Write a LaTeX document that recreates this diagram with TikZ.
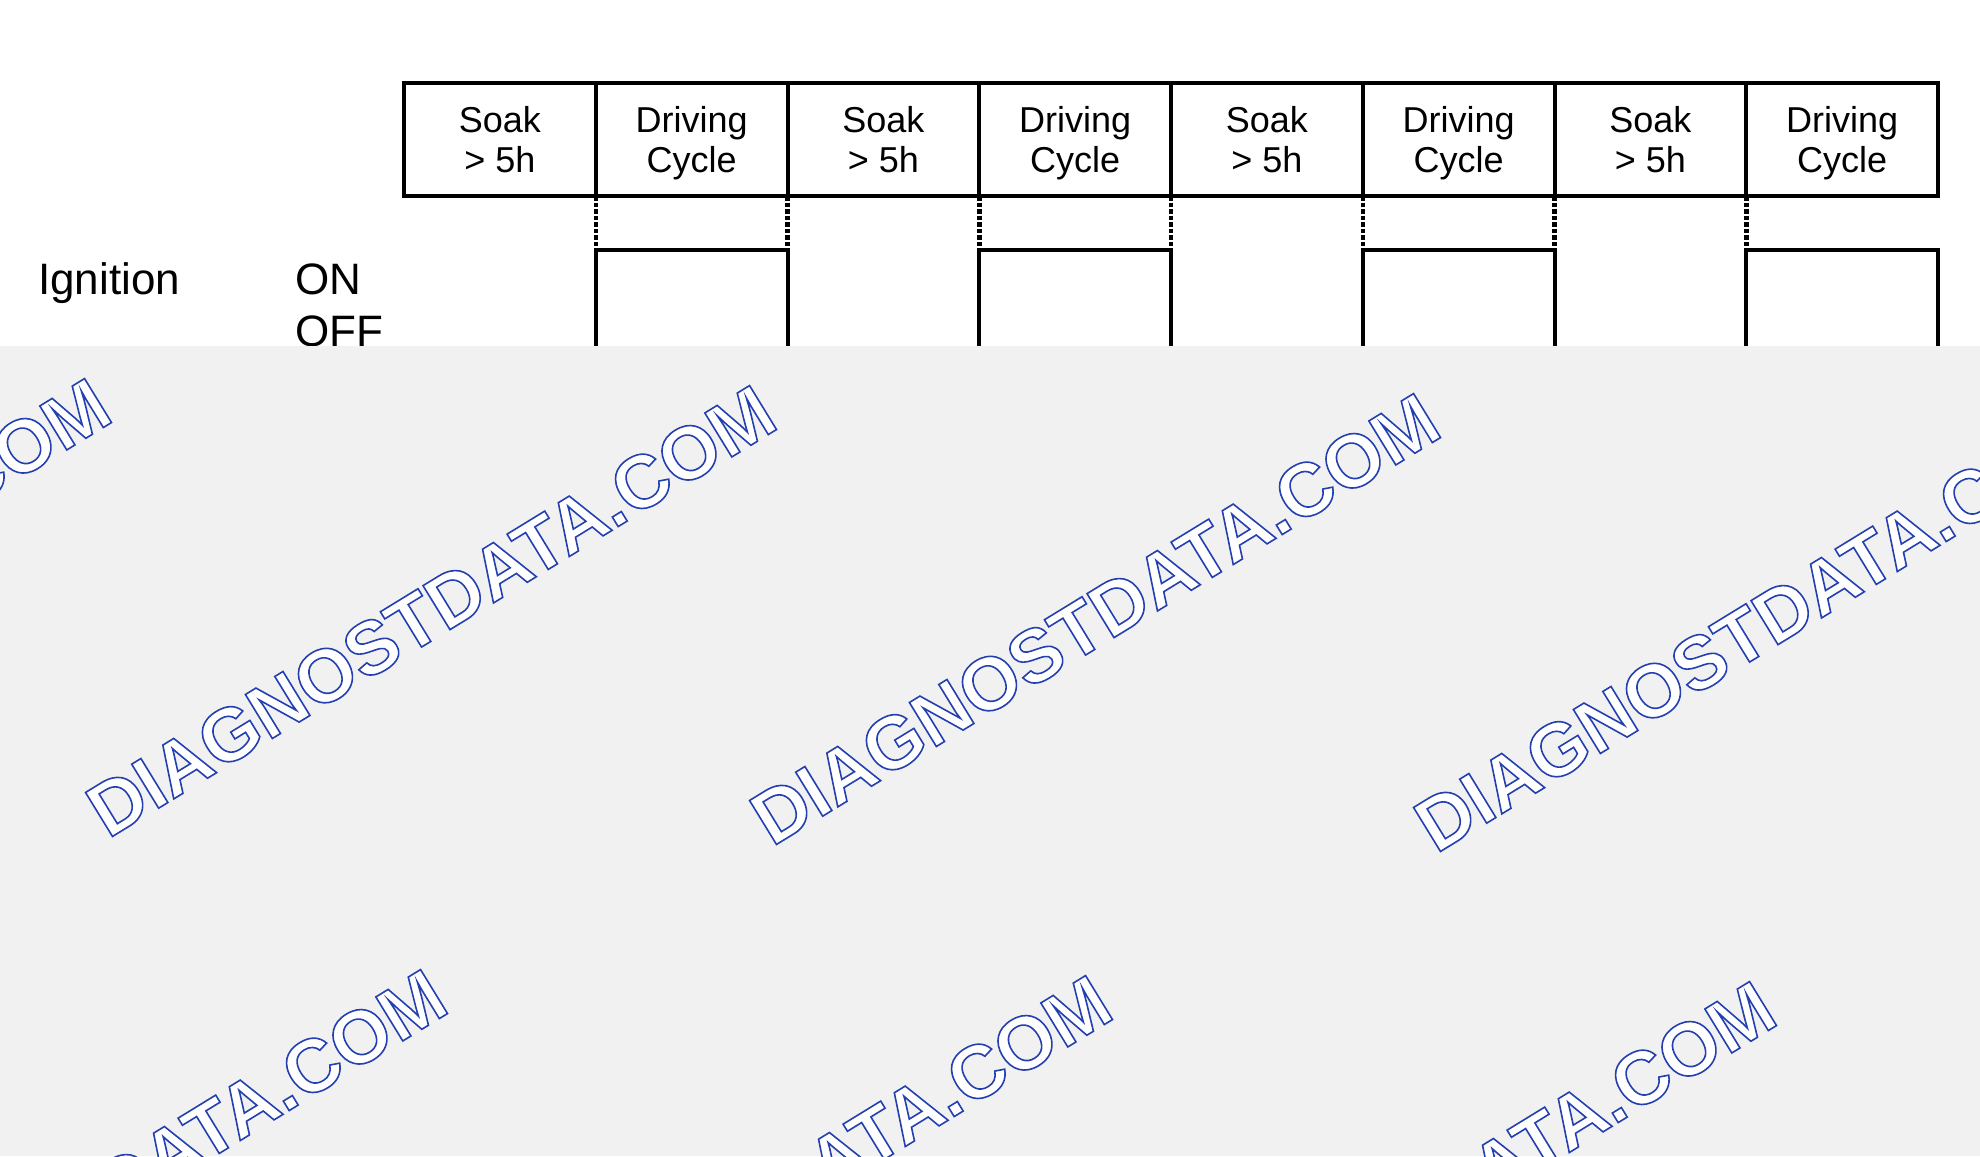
\documentclass[tikz,border=0pt]{standalone}
\usepackage{fontspec}
\setmainfont{Liberation Sans}
\usepackage{tikz}
\definecolor{fog}{RGB}{241,241,242}
\newcommand{\outlined}[1]{\special{pdf:literal direct 2 Tr 1.6 w 0.14 0.25 0.69 RG 1 1 1 rg}#1\special{pdf:literal direct 0 Tr}}
\tikzstyle{cellbox}=[rectangle,draw=black,line width=4pt,outer sep=0pt,
                     inner sep=0pt,minimum width=191.75pt,minimum height=113pt,
                     align=center,font=\fontsize{36}{40}\selectfont]
\tikzstyle{sigline}=[draw=black,line width=4pt]
\tikzstyle{dotline}=[draw=black,line width=4.5pt,dash pattern=on 4.5pt off 2pt]
\tikzstyle{label}=[anchor=base west,inner sep=0pt,font=\fontsize{44}{44}\selectfont]
\tikzstyle{stamp}=[rotate=31.5,inner sep=0pt,text=white,
                   font=\fontsize{75}{75}\selectfont\bfseries]

\begin{document}
\begin{tikzpicture}[x=1pt,y=-1pt]
    \useasboundingbox (0,0) rectangle (1980,1156);
    \newcommand{\cellw}{191.75}
    \newcommand{\midy}{139.5}
    % cycle boxes
    \node (soak1)  at (404+0.5*\cellw, \midy) [cellbox]{Soak\\> 5h};
    \node (drive1) at (404+1.5*\cellw, \midy) [cellbox]{Driving\\\smash{Cycle}};
    \node (soak2)  at (404+2.5*\cellw, \midy) [cellbox]{Soak\\> 5h};
    \node (drive2) at (404+3.5*\cellw, \midy) [cellbox]{Driving\\\smash{Cycle}};
    \node (soak3)  at (404+4.5*\cellw, \midy) [cellbox]{Soak\\> 5h};
    \node (drive3) at (404+5.5*\cellw, \midy) [cellbox]{Driving\\\smash{Cycle}};
    \node (soak4)  at (404+6.5*\cellw, \midy) [cellbox]{Soak\\> 5h};
    \node (drive4) at (404+7.5*\cellw, \midy) [cellbox]{Driving\\\smash{Cycle}};
    % ignition trace
    \node (ign) at (38, 294) [label]{Ignition};
    \node (on)  at (295, 294) [label]{ON};
    \node (off) at (295, 346) [label]{OFF};
    \foreach \d in {1,...,4} {
      \draw[sigline] ([yshift=-170pt]drive\d.south west) |- ([yshift=-54pt]drive\d.south)
                     -| ([yshift=-170pt]drive\d.south east);
      \draw[dotline] (drive\d.south west) -- ++(0,54);
    }
    \foreach \d in {1,...,3}
      \draw[dotline] (drive\d.south east) -- ++(0,54);
    % covered lower part
    \fill[fog] (0,346) rectangle (1980,1156);
    \node (wm1) at (-234, 604) [stamp]{\outlined{DIAGNOSTDATA.COM}};
    \node (wm2) at (431, 611)  [stamp]{\outlined{DIAGNOSTDATA.COM}};
    \node (wm3) at (1095, 619) [stamp]{\outlined{DIAGNOSTDATA.COM}};
    \node (wm4) at (1759, 626) [stamp]{\outlined{DIAGNOSTDATA.COM}};
    \node (wm5) at (102, 1195) [stamp]{\outlined{DIAGNOSTDATA.COM}};
    \node (wm6) at (767, 1201) [stamp]{\outlined{DIAGNOSTDATA.COM}};
    \node (wm7) at (1431, 1207)[stamp]{\outlined{DIAGNOSTDATA.COM}};
\end{tikzpicture}
\end{document}
